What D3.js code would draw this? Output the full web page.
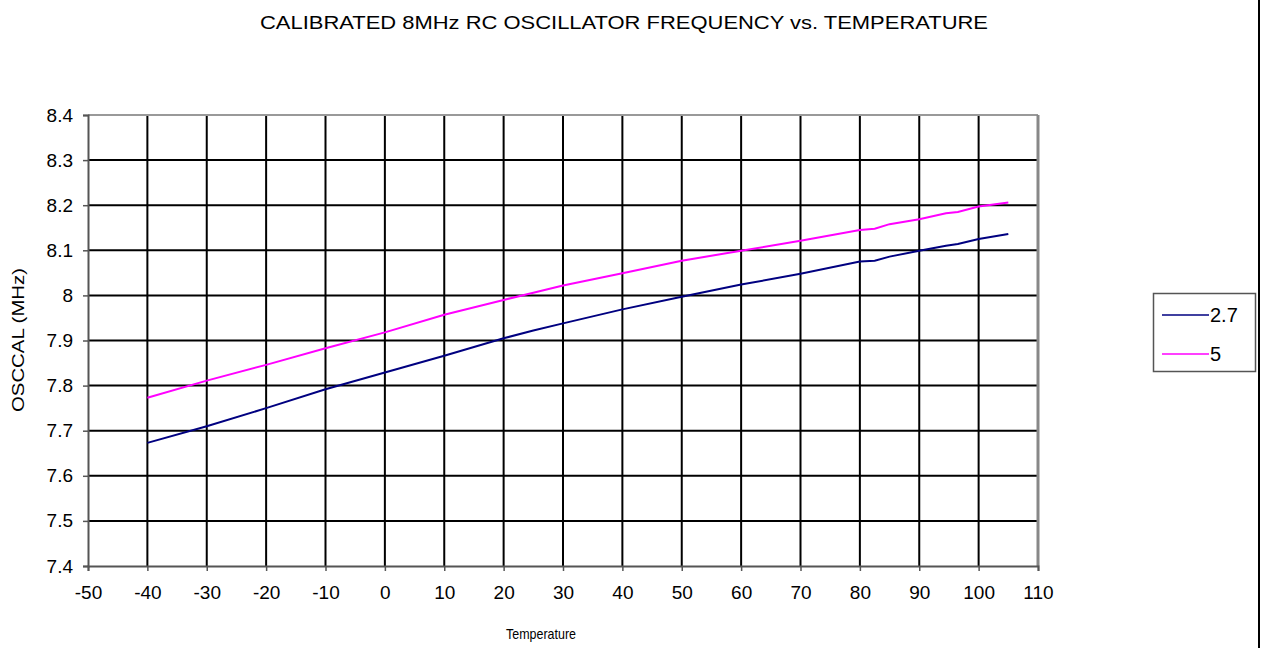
<!DOCTYPE html>
<html>
<head>
<meta charset="utf-8">
<script src="https://cdn.jsdelivr.net/npm/d3@7"></script>
<style>
  body { margin: 0; background: #fff; }
  svg text { font-family: "Liberation Sans", Arial, sans-serif; fill: #000; }
</style>
</head>
<body>
<div id="chart"></div>
<script>
// data
const temps = [-40, -30, -20, -10, 0, 10, 20, 25, 30, 40, 50, 60, 70, 80, 82.5, 85, 90, 94.5, 96.5, 100, 105];
const v27 = [7.673, 7.710, 7.750, 7.792, 7.829, 7.866, 7.905, 7.922, 7.938, 7.969, 7.997, 8.024, 8.048, 8.075, 8.077, 8.086, 8.099, 8.110, 8.114, 8.125, 8.136];
const v5 = [7.773, 7.811, 7.846, 7.883, 7.918, 7.957, 7.990, 8.006, 8.022, 8.049, 8.077, 8.099, 8.121, 8.145, 8.148, 8.158, 8.169, 8.182, 8.185, 8.197, 8.206];
const seriesNames = ["2.7", "5"];
const seriesColors = ["#000080", "#ff00ff"];
const xTicks = d3.range(-50, 111, 10);
const yTicks = d3.range(7.4, 8.41, 0.1);

const width = 1261;
const height = 648;
const plot = { left: 88, right: 1038, top: 115, bottom: 566 };

const svg = d3.select("#chart")
  .append("svg")
  .attr("width", width)
  .attr("height", height);

const x = d3.scaleLinear().domain([-50, 110]).range([plot.left, plot.right]);
const y = d3.scaleLinear().domain([7.4, 8.4]).range([plot.bottom, plot.top]);

// title
svg.append("text")
  .attr("x", 624)
  .attr("y", 29)
  .attr("text-anchor", "middle")
  .attr("font-size", 19)
  .attr("textLength", 728)
  .attr("lengthAdjust", "spacingAndGlyphs")
  .text("CALIBRATED 8MHz RC OSCILLATOR FREQUENCY vs. TEMPERATURE");

// gridlines
svg.append("g")
  .selectAll("line")
  .data(xTicks.slice(1, -1))
  .enter()
  .append("line")
  .attr("x1", (d) => x(d))
  .attr("x2", (d) => x(d))
  .attr("y1", plot.top)
  .attr("y2", plot.bottom)
  .attr("stroke", "#000")
  .attr("stroke-width", 2);

svg.append("g")
  .selectAll("line")
  .data(yTicks.slice(1, -1))
  .enter()
  .append("line")
  .attr("x1", plot.left)
  .attr("x2", plot.right)
  .attr("y1", (d) => y(d))
  .attr("y2", (d) => y(d))
  .attr("stroke", "#000")
  .attr("stroke-width", 2);

// plot frame
svg.append("line")
  .attr("x1", plot.left).attr("x2", plot.right)
  .attr("y1", plot.top).attr("y2", plot.top)
  .attr("stroke", "#999").attr("stroke-width", 2);
svg.append("line")
  .attr("x1", plot.right).attr("x2", plot.right)
  .attr("y1", plot.top).attr("y2", plot.bottom)
  .attr("stroke", "#888").attr("stroke-width", 3);

// axes (plain hyphen for negatives, like the original)
const xAxis = svg.append("g")
  .attr("transform", `translate(0, ${plot.bottom})`)
  .call(d3.axisBottom(x).tickValues(xTicks).tickSize(5).tickPadding(15).tickFormat((d) => String(d)));
const yAxis = svg.append("g")
  .attr("transform", `translate(${plot.left}, 0)`)
  .call(d3.axisLeft(y).tickValues(yTicks).tickSize(5).tickPadding(10).tickFormat((d) => String(+d.toFixed(1))));

[xAxis, yAxis].forEach((axis) => {
  axis.select(".domain").attr("stroke", "#555").attr("stroke-width", 2);
  axis.selectAll(".tick line").attr("stroke", "#555").attr("stroke-width", 1.5);
  axis.selectAll("text")
    .attr("font-size", 19)
    .attr("font-family", "Liberation Sans, Arial, sans-serif")
    .attr("fill", "#000");
});

// axis titles
svg.append("text")
  .attr("x", 541)
  .attr("y", 639)
  .attr("text-anchor", "middle")
  .attr("font-size", 15)
  .attr("textLength", 70)
  .attr("lengthAdjust", "spacingAndGlyphs")
  .text("Temperature");

svg.append("text")
  .attr("transform", "translate(24, 340) rotate(-90)")
  .attr("text-anchor", "middle")
  .attr("font-size", 17)
  .attr("textLength", 144)
  .attr("lengthAdjust", "spacingAndGlyphs")
  .text("OSCCAL (MHz)");

// series lines
const line = d3.line()
  .x((d) => x(d[0]))
  .y((d) => y(d[1]));

[v27, v5].forEach((vals, i) => {
  svg.append("path")
    .datum(temps.map((t, j) => [t, vals[j]]))
    .attr("fill", "none")
    .attr("stroke", seriesColors[i])
    .attr("stroke-width", 2)
    .attr("d", line);
});

// legend
const legend = svg.append("g").attr("transform", "translate(1153, 293)");
legend.append("rect")
  .attr("x", 0.5)
  .attr("y", 0.5)
  .attr("width", 102)
  .attr("height", 78)
  .attr("fill", "#fff")
  .attr("stroke", "#555")
  .attr("stroke-width", 1.5);

seriesNames.forEach((name, i) => {
  const ly = 22 + i * 39;
  legend.append("line")
    .attr("x1", 9).attr("x2", 56)
    .attr("y1", ly).attr("y2", ly)
    .attr("stroke", seriesColors[i])
    .attr("stroke-width", 1.5);
  legend.append("text")
    .attr("x", 57)
    .attr("y", ly + 7)
    .attr("font-size", 20)
    .text(name);
});

// page border on the right
svg.append("line")
  .attr("x1", 1259).attr("x2", 1259)
  .attr("y1", 0).attr("y2", height)
  .attr("stroke", "#000")
  .attr("stroke-width", 2);
</script>
</body>
</html>
